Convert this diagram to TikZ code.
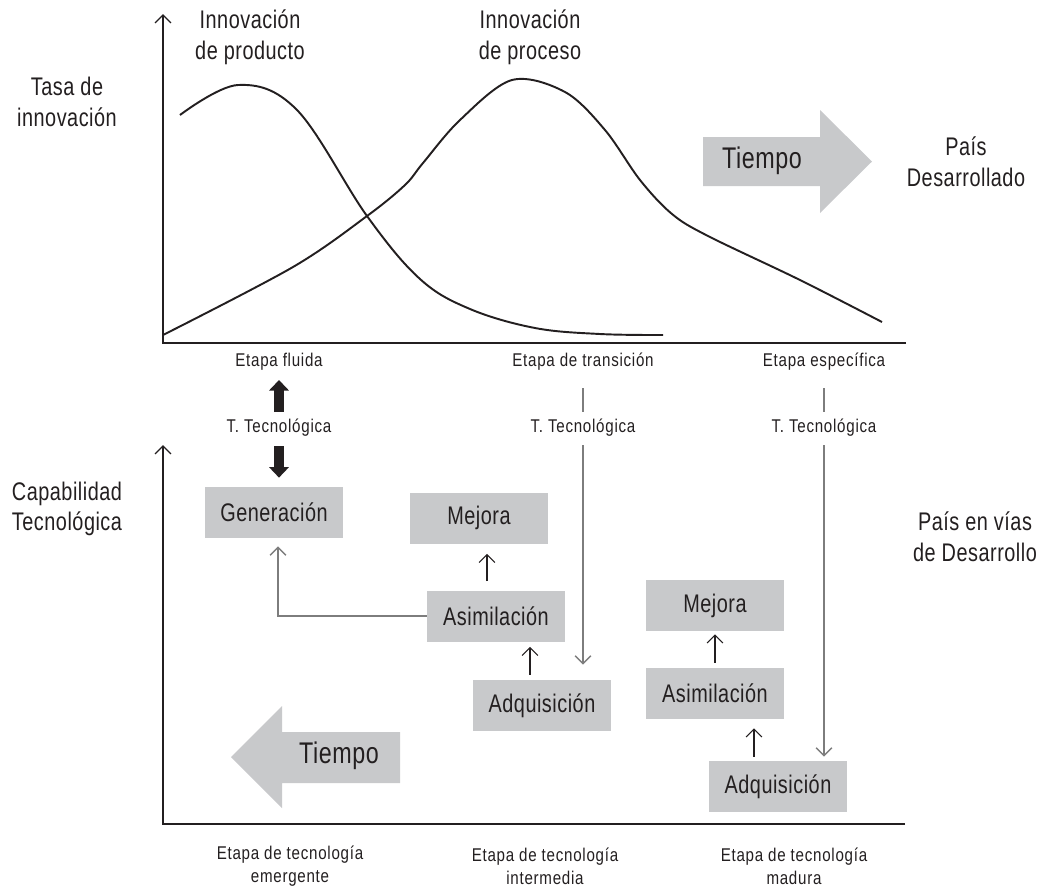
\documentclass[tikz,border=0pt]{standalone}
\usepackage{fontspec}
\setmainfont{Liberation Sans}[FakeStretch=0.78, LetterSpace=2]
\newfontfamily\notefont{Liberation Sans}[FakeStretch=0.82, LetterSpace=4]
\usetikzlibrary{calc}
\usetikzlibrary{arrows.meta}
\usetikzlibrary{positioning}
\definecolor{box-gray}{RGB}{200,201,203}
\definecolor{line-gray}{RGB}{125,125,125}
\definecolor{ink}{RGB}{35,31,32}

\begin{document}
\begin{tikzpicture}
  [
    x=0.02cm, y=-0.02cm,
    heading/.style = {align=center, font=\fontsize{14.5}{17.5}\selectfont, text=ink},
    note/.style    = {align=center, font=\notefont\fontsize{10.5}{13}\selectfont, text=ink},
    stage/.style   = {fill=box-gray, minimum width=2.76cm, minimum height=1.02cm,
                      inner sep=0pt, font=\fontsize{14.5}{17.5}\selectfont, text=ink},
    timebox/.style = {font=\fontsize{17}{20}\selectfont, text=ink},
    barb/.tip      = {Straight Barb[length=4.5pt, width=9pt]},
    link/.style    = {-barb, ink, line width=0.6pt},
    glink/.style   = {-barb, line-gray, line width=0.8pt},
    gline/.style   = {line-gray, line width=0.8pt},
    tarrow/.style  = {-{Triangle[length=6pt, width=11pt]}, line width=5.5pt, ink},
    curve/.style   = {ink, line width=1.1pt},
    axis/.style    = {ink, line width=0.8pt}
  ]
\useasboundingbox (0,0) rectangle (1039,887);

% ---------------------------------------------------
% Upper chart: Tasa de innovacion
\coordinate[] (o1) at (163,343);
\coordinate[] (y1) at (163,14);
\coordinate[] (x1) at (906,343);
\draw[axis, -barb] (x1) -- (o1) -- (y1);

% Product curve
\draw[curve] plot[smooth, tension=0.6] coordinates
  {(180,115) (238,85) (297,110) (367,216) (420,279) (470,309)
   (535,328) (600,334) (663,335)};
% Process curve
\draw[curve] plot[smooth, tension=0.55] coordinates
  {(163,335) (293,267) (367,216) (405,185) (423,163) (460,120) (512,80)
   (565,92) (605,130) (640,180) (672,214) (708,236) (800,280) (882,322)};

\node[heading] (ip)  at (250,37)  {Innovación\\de producto};
\node[heading] (ipr) at (530,37)  {Innovación\\de proceso};
\node[heading] (tasa) at (67,102) {Tasa de\\innovación};
\node[heading] (pd)  at (966,162) {País\\Desarrollado};

% Tiempo (forward)
\fill[box-gray] (703,137) -- (820,137) -- (820,110) -- (872,161.5)
                -- (820,213) -- (820,186) -- (703,186) -- cycle;
\node[timebox] (tf) at (762,161) {Tiempo};

% Stages
\node[note] (ef) at (279,362) {Etapa fluida};
\node[note] (et) at (583,362) {Etapa de transición};
\node[note] (ee) at (824,362) {Etapa específica};

\node[note] (tt1) at (279,428) {T. Tecnológica};
\node[note] (tt2) at (583,428) {T. Tecnológica};
\node[note] (tt3) at (824,428) {T. Tecnológica};

% ---------------------------------------------------
% Lower chart: Capabilidad Tecnologica
\coordinate[] (o2) at (163,824);
\coordinate[] (y2) at (163,445);
\coordinate[] (x2) at (905,824);
\draw[axis, -barb] (x2) -- (o2) -- (y2);

\node[heading] (cap) at (67,509)  {Capabilidad\\Tecnológica};
\node[heading] (pvd) at (975,537) {País en vías\\de Desarrollo};

% Boxes
\node[stage] (gen)  at (274,512.5) {Generación};
\node[stage] (mej1) at (479,518)   {Mejora};
\node[stage] (asi1) at (496,616)   {Asimilación};
\node[stage] (adq1) at (542,705.5) {Adquisición};
\node[stage] (mej2) at (715,605.5) {Mejora};
\node[stage] (asi2) at (715,693.5) {Asimilación};
\node[stage] (adq2) at (778,786.5) {Adquisición};

% Tiempo (backward)
\fill[box-gray] (400,732) -- (282,732) -- (282,706) -- (231,757)
                -- (282,808) -- (282,783) -- (400,783) -- cycle;
\node[timebox] (tb) at (339,756) {Tiempo};

% Bottom stages
\node[note] (te) at (290,866) {Etapa de tecnología\\emergente};
\node[note] (ti) at (545,866) {Etapa de tecnología\\intermedia};
\node[note] (tm) at (794,866) {Etapa de tecnología\\madura};

% ---------------------------------------------------
% Transfer arrows
\draw[tarrow] ($ (tt1) + (0,-16) $) -- ($ (ef) + (0,18) $);
\draw[tarrow] ($ (tt1) + (0,18) $)  -- ($ (tt1 |- gen.north) + (0,-9) $);

\draw[gline] ($ (et) + (0,26) $) -- ($ (tt2) + (0,-16) $);
\draw[glink] ($ (tt2) + (0,17) $) -- ($ (tt2 |- adq1.north) + (0,-15) $);
\draw[gline] ($ (ee) + (0,26) $) -- ($ (tt3) + (0,-16) $);
\draw[glink] ($ (tt3) + (0,17) $) -- ($ (tt3 |- adq2.north) + (0,-4) $);

% Between boxes
\draw[glink] (asi1.west) -| ($ (gen.south) + (4,8) $);
\draw[link] ($ (asi1.north) + (-9,-9) $)  -- ($ (mej1.south) + (8,10) $);
\draw[link] ($ (adq1.north) + (-12,-5) $) -- ($ (asi1.south) + (34,5) $);
\draw[link] ($ (asi2.north) + (0,-5) $)   -- ($ (mej2.south) + (0,3) $);
\draw[link] ($ (adq2.north) + (-24,-4) $) -- ($ (asi2.south) + (39,9) $);
% ---------------------------------------------------
\end{tikzpicture}
\end{document}
